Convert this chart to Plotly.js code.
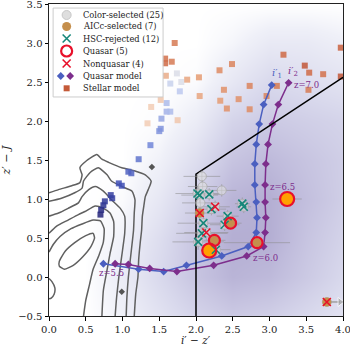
<!DOCTYPE html>
<html>
<head>
<meta charset="utf-8">
<script src="https://cdn.plot.ly/plotly-3.0.1.min.js"></script>
<style>html,body{margin:0;padding:0;background:#fff;}#chart{width:350px;height:346px;}</style>
</head>
<body>
<div id="chart"></div>
<script>
// ---------------- DATA ----------------
// hexbin density background (coarse grid of density levels)
const hexX = [0.5, 1.0, 1.5, 2.0, 2.5, 3.0, 3.5, 4.0];
const hexY = [-0.5, 0.0, 0.5, 1.0, 1.5, 2.0, 2.5, 3.0, 3.5];
const hexZ = [
  [0, 1.0, 2.5, 4.0, 5.0, 4.5, 3.5, 2.5],
  [0, 1.5, 3.5, 5.5, 7.0, 6.5, 5.0, 3.5],
  [0, 1.0, 3.0, 5.5, 7.5, 7.5, 5.5, 4.0],
  [0, 0.3, 2.0, 4.5, 7.0, 7.5, 6.0, 4.5],
  [0, 0.0, 1.0, 3.0, 5.5, 6.5, 5.5, 4.5],
  [0, 0.0, 0.2, 1.5, 4.0, 5.0, 4.5, 4.0],
  [0, 0.0, 0.0, 0.3, 2.0, 3.5, 3.0, 2.5],
  [0, 0.0, 0.0, 0.0, 0.7, 1.8, 1.8, 1.2],
  [0, 0, 0, 0, 0, 0, 0, 0]
];

// density contours (gray lines)
const contourAx = [0.00,0.13,0.31,0.42,0.45,0.42,0.51,0.65,0.72,0.81,0.99,1.17,1.31,1.39,1.35,1.31,1.29,1.27,1.26,1.24,1.22,1.21,1.18,1.16];
const contourAy = [1.08,1.12,1.17,1.21,1.31,1.40,1.49,1.57,1.51,1.47,1.40,1.36,1.31,1.23,1.12,1.03,0.91,0.78,0.60,0.43,0.22,0.00,-0.22,-0.50];
const contourBx = [0.00,0.17,0.35,0.45,0.47,0.56,0.67,0.79,0.85,0.99,1.13,1.17,1.16,1.15,1.12,1.08,1.06,1.05];
const contourBy = [0.97,1.01,1.08,1.14,1.23,1.34,1.40,1.31,1.23,1.16,1.10,0.99,0.82,0.60,0.34,0.00,-0.26,-0.50];
const contourCx = [0.00,0.13,0.26,0.40,0.45,0.54,0.63,0.74,0.85,0.97,1.03,1.03,1.00,0.95,0.92,0.90];
const contourCy = [0.78,0.82,0.88,0.95,1.03,1.12,1.16,1.10,0.99,0.88,0.78,0.56,0.34,0.00,-0.26,-0.50];
const contourDx = [0.00,0.10,0.26,0.40,0.49,0.63,0.74,0.83,0.88,0.88,0.83,0.79,0.74,0.72];
const contourDy = [0.56,0.65,0.73,0.80,0.84,0.91,0.88,0.82,0.71,0.52,0.30,0.09,-0.17,-0.50];
const contourEx = [0.00,0.06,0.15,0.30,0.45,0.60,0.70,0.75,0.74,0.68,0.60,0.55,0.50,0.47];
const contourEy = [0.32,0.42,0.52,0.62,0.68,0.73,0.72,0.62,0.45,0.28,0.10,-0.10,-0.30,-0.50];
const contourFx = [0.00,0.04,0.08,0.07,0.03,0.00];
const contourFy = [-0.02,-0.06,-0.14,-0.22,-0.27,-0.28];
const contourGx = [0.14,0.22,0.35,0.50,0.60,0.62,0.57,0.46,0.33,0.21,0.14,0.14];
const contourGy = [0.20,0.33,0.44,0.53,0.56,0.50,0.39,0.26,0.15,0.10,0.14,0.20];

// stellar model (colour value: 0 = coolest blue ... 1 = dark red)
const stellarX = [0.70,0.71,0.74,0.76,0.84,0.86,0.95,0.99,1.08,1.12,1.22,1.38,1.50,1.52,1.53,1.60,1.65,1.60,1.78,1.65,1.74,1.80,
                  1.39,1.34,1.52,1.75,1.59,1.88,2.05,2.04,2.33,2.42,2.38,2.58,2.73,2.32,2.49,2.73,2.96,3.10,1.58,1.58,1.67,1.71,3.19,3.48,3.54,3.73,3.53,3.97,3.97];
const stellarY = [0.80,0.86,0.92,0.97,1.05,1.01,1.20,1.17,1.35,1.33,1.51,1.69,1.87,1.90,2.03,2.12,2.12,2.23,2.38,2.48,2.61,2.50,
                  2.18,1.97,2.27,2.01,2.58,2.53,2.32,2.56,2.26,2.16,2.40,2.28,2.15,2.65,2.73,2.45,2.32,2.45,2.80,2.74,2.76,3.00,2.85,2.71,2.62,2.60,2.40,2.94,2.57];
const stellarT = [0.00,0.02,0.05,0.07,0.10,0.10,0.15,0.15,0.20,0.20,0.25,0.30,0.33,0.33,0.37,0.40,0.42,0.42,0.45,0.47,0.50,0.50,
                  0.60,0.60,0.62,0.62,0.70,0.72,0.72,0.75,0.75,0.78,0.78,0.78,0.80,0.80,0.82,0.82,0.82,0.85,0.88,0.90,0.85,0.85,0.90,0.95,0.90,0.88,0.85,0.92,0.95];

// other small model points (dark gray diamonds)
const otherX = [1.40, 0.99];
const otherY = [1.41, -0.19];

// quasar model tracks
const qsoBlueX = [0.74,1.22,1.56,1.87,2.35,2.71,2.82,2.83,2.82,2.80,2.80,2.82,2.86,2.92,3.03];
const qsoBlueY = [0.17,0.10,0.07,0.15,0.27,0.39,0.57,0.76,0.96,1.18,1.45,1.70,1.96,2.21,2.46];
const qsoPurpX = [0.90,1.08,1.37,1.74,2.24,2.69,2.92,2.94,2.95,2.94,2.94,2.95,2.98,3.04,3.12,3.26];
const qsoPurpY = [0.17,0.16,0.11,0.07,0.15,0.27,0.39,0.57,0.76,0.96,1.18,1.45,1.70,1.96,2.21,2.49];
const zLabels = ['z=5.5', 'z=6.0', 'z=6.5', 'z=7.0'];
const zLabelIdx = [0, 5, 10, 15];

// selection boundary
const cutX = [2.0, 2.0, 4.0];
const cutY = [-0.5, 1.32, 2.56];

// colour-selected candidates (25) with errors
const candX = [2.08,2.09,2.35,2.02,2.05,2.18,2.21,2.26,2.63,2.65,2.43,2.39,2.10,2.08,2.14,2.03,2.27,2.05,2.47,2.25,2.83,2.18,3.24,3.78,2.06];
const candY = [1.29,1.16,1.11,1.07,1.05,1.06,0.87,0.90,0.94,0.90,0.78,0.67,0.69,0.56,0.57,0.45,0.35,0.82,0.69,0.47,0.44,0.34,1.00,-0.32,0.95];
const candXerr = [0.25,0.20,0.20,0.30,0.25,0.15,0.20,0.20,0.10,0.10,0.15,0.20,0.35,0.35,0.30,0.35,0.20,0.20,0.15,0.15,0.45,0.10,0.20,0.00,0.25];
const candYerr = [0.08,0.08,0.08,0.10,0.10,0.08,0.08,0.08,0.08,0.08,0.08,0.08,0.10,0.10,0.10,0.10,0.10,0.08,0.06,0.07,0.06,0.12,0.05,0.05,0.10];
const limitX = [3.78];
const limitY = [-0.32];
const limitLen = [0.18];

// AICc-selected (7)
const aiccX = [2.47,2.25,2.83,2.05,3.78];
const aiccY = [0.69,0.47,0.44,0.82,-0.32];
const aiccBrightX = [3.24,2.18];
const aiccBrightY = [1.00,0.34];

// HSC-rejected (12)
const hscX = [2.02,2.05,2.18,2.21,2.63,2.65,2.43,2.39,2.10,2.08,2.03,2.27];
const hscY = [1.07,1.05,1.06,0.87,0.94,0.90,0.78,0.67,0.69,0.56,0.45,0.35];

// Quasar (5) and Nonquasar (4)
const quasarX = [2.47,2.25,2.83];
const quasarY = [0.69,0.47,0.44];
const quasarBrightX = [3.24,2.18];
const quasarBrightY = [1.00,0.34];
const nonqX = [2.26,2.14,2.05,3.78];
const nonqY = [0.90,0.57,0.82,-0.32];

// legend entries
const legendLabels = ['Color-selected (25)','AICc-selected (7)','HSC-rejected (12)','Quasar (5)','Nonquasar (4)','Quasar model','Stellar model'];
const xTitle = '<i>i</i>′ − <i>z</i>′';
const yTitle = '<i>z</i>′ − <i>J</i>';

// ---------------- STYLE ----------------
const FONT = 'DejaVu Serif, Liberation Serif, serif';
const C_BLUE = '#4b5fc0', C_PURP = '#7d2e8c', C_RED = '#e8102a', C_TEAL = '#17877a';
const C_AICC = '#c58f4c', C_ORANGE = '#ffa000';
const C_STELLAR = '#c45a38';
const stellarScale = [[0,'#23237a'],[0.15,'#3f4fb5'],[0.3,'#7186d8'],[0.45,'#bcc8ee'],[0.52,'#e6e6e6'],[0.6,'#f2cdb5'],[0.75,'#e59b72'],[0.9,'#cf6a45'],[1,'#b5432a']];

const traces = [];
traces.push({type:'heatmap', x:hexX, y:hexY, z:hexZ, zsmooth:'best', zmin:0, zmax:9, showscale:false, hoverinfo:'skip',
  colorscale:[[0,'#ffffff'],[0.12,'#eff0f8'],[0.4,'#d8d8ec'],[0.7,'#c0bcdc'],[1,'#a69ec8']]});

[[contourAx,contourAy],[contourBx,contourBy],[contourCx,contourCy],[contourDx,contourDy],[contourEx,contourEy],[contourFx,contourFy],[contourGx,contourGy]]
  .forEach(([cx,cy]) => traces.push({type:'scatter', mode:'lines', x:cx, y:cy, line:{color:'#606060', width:1.5, shape:'spline', smoothing:0.5}, showlegend:false, hoverinfo:'skip'}));

traces.push({type:'scatter', mode:'markers', x:stellarX, y:stellarY, showlegend:false,
  marker:{symbol:'square', size:6, color:stellarT, colorscale:stellarScale, cmin:0, cmax:1, opacity:0.85, line:{width:0}}});
traces.push({type:'scatter', mode:'markers', x:otherX, y:otherY, showlegend:false,
  marker:{symbol:'diamond', size:5, color:'#555555'}});

traces.push({type:'scatter', mode:'lines+markers', x:qsoBlueX, y:qsoBlueY, showlegend:false,
  line:{color:C_BLUE, width:1.5}, marker:{symbol:'diamond', size:6, color:C_BLUE}});
traces.push({type:'scatter', mode:'lines+markers', x:qsoPurpX, y:qsoPurpY, showlegend:false,
  line:{color:C_PURP, width:1.5}, marker:{symbol:'diamond', size:6, color:C_PURP}});

traces.push({type:'scatter', mode:'lines', x:cutX, y:cutY, showlegend:false, line:{color:'#000', width:1.5}});

traces.push({type:'scatter', mode:'markers', x:candX, y:candY, showlegend:false,
  error_x:{type:'data', array:candXerr, visible:true, color:'rgba(140,140,140,0.55)', thickness:1, width:0},
  error_y:{type:'data', array:candYerr, visible:true, color:'rgba(140,140,140,0.55)', thickness:1, width:0},
  marker:{symbol:'circle', size:9, color:'rgba(222,222,222,0.6)', line:{color:'rgba(170,170,170,0.8)', width:1}}});

// lower-limit arrows (from the point towards +x)
limitX.forEach((lx,i) => traces.push({type:'scatter', mode:'lines+markers', x:[lx, lx + limitLen[i]], y:[limitY[i], limitY[i]], showlegend:false, hoverinfo:'skip',
  line:{color:'#a0a0a0', width:1.5}, marker:{symbol:'triangle-right', size:[0, 8], color:'#a0a0a0'}}));

traces.push({type:'scatter', mode:'markers', x:aiccX, y:aiccY, showlegend:false,
  marker:{symbol:'circle', size:9, color:C_AICC}});
traces.push({type:'scatter', mode:'markers', x:aiccBrightX, y:aiccBrightY, showlegend:false,
  marker:{symbol:'circle', size:13, color:C_ORANGE}});
traces.push({type:'scatter', mode:'markers', x:hscX, y:hscY, showlegend:false,
  marker:{symbol:'x-thin-open', size:8, color:C_TEAL, line:{color:C_TEAL, width:1.6}}});
traces.push({type:'scatter', mode:'markers', x:quasarX, y:quasarY, showlegend:false,
  marker:{symbol:'circle-open', size:11, color:C_RED, line:{color:C_RED, width:2.2}}});
traces.push({type:'scatter', mode:'markers', x:quasarBrightX, y:quasarBrightY, showlegend:false,
  marker:{symbol:'circle-open', size:14, color:C_RED, line:{color:C_RED, width:2.2}}});
traces.push({type:'scatter', mode:'markers', x:nonqX, y:nonqY, showlegend:false,
  marker:{symbol:'x-thin-open', size:8, color:C_RED, line:{color:C_RED, width:1.6}}});

// ---------------- manual legend (overlay paper-like axes) ----------------
const LEG = {x0:0.014, x1:0.388, y0:0.702, y1:0.987};
const legRows = [15, 26.5, 38.5, 51, 63.5, 76, 88.3].map(py => (316 - py) / 312);
const symX = 0.060;
traces.push({type:'scatter', mode:'lines', xaxis:'x2', yaxis:'y2', x:[LEG.x0,LEG.x1,LEG.x1,LEG.x0,LEG.x0], y:[LEG.y0,LEG.y0,LEG.y1,LEG.y1,LEG.y0],
  fill:'toself', fillcolor:'rgba(255,255,255,0.85)', line:{color:'#cccccc', width:1}, showlegend:false, hoverinfo:'skip'});
const legSym = [
  {x:[symX], y:[legRows[0]], marker:{symbol:'circle', size:9, color:'#dedede', line:{color:'#c8c8c8', width:1}}},
  {x:[symX], y:[legRows[1]], marker:{symbol:'circle', size:9, color:C_AICC}},
  {x:[symX], y:[legRows[2]], marker:{symbol:'x-thin-open', size:8, color:C_TEAL, line:{color:C_TEAL, width:1.6}}},
  {x:[symX], y:[legRows[3]], marker:{symbol:'circle-open', size:11, color:C_RED, line:{color:C_RED, width:2.2}}},
  {x:[symX], y:[legRows[4]], marker:{symbol:'x-thin-open', size:8, color:C_RED, line:{color:C_RED, width:1.6}}},
  {x:[symX-0.02], y:[legRows[5]], marker:{symbol:'diamond', size:6, color:C_BLUE}},
  {x:[symX+0.012], y:[legRows[5]], marker:{symbol:'diamond', size:6, color:C_PURP}},
  {x:[symX], y:[legRows[6]], marker:{symbol:'square', size:6, color:C_STELLAR}}
];
legSym.forEach(s => traces.push(Object.assign({type:'scatter', mode:'markers', xaxis:'x2', yaxis:'y2', showlegend:false, hoverinfo:'skip'}, s)));

const annotations = [];
legendLabels.forEach((t,i) => annotations.push({xref:'paper', yref:'paper', x:0.108, y:legRows[i], xanchor:'left', yanchor:'middle',
  text:t, showarrow:false, font:{family:FONT, size:8.3, color:'#222'}}));

// x-axis title placed below the tick labels
annotations.push({xref:'paper', yref:'paper', x:0.5, y:-(339.5 - 316) / 312, xanchor:'center', yanchor:'middle',
  text:xTitle, showarrow:false, borderpad:0, font:{family:FONT, size:10.5, color:'#222'}});

// z labels on the purple track
zLabelIdx.forEach((idx,k) => {
  const opts = {x:qsoPurpX[idx], y:qsoPurpY[idx], text:zLabels[k], showarrow:false, font:{family:FONT, size:8.5, color:C_PURP}};
  if (k === 0) Object.assign(opts, {xanchor:'center', yanchor:'top', xshift:-4, yshift:-2});
  else if (k === 1) Object.assign(opts, {xanchor:'left', yanchor:'middle', xshift:4, yshift:-2});
  else Object.assign(opts, {xanchor:'left', yanchor:'middle', xshift:3, yshift:-2});
  annotations.push(opts);
});
// track labels
annotations.push({x:qsoBlueX[qsoBlueX.length-1], y:qsoBlueY[qsoBlueY.length-1], text:'<i>i</i>′<sub>1</sub>', showarrow:false,
  xanchor:'center', yanchor:'bottom', xshift:5, yshift:3, font:{family:FONT, size:10, color:C_BLUE}});
annotations.push({x:qsoPurpX[qsoPurpX.length-1], y:qsoPurpY[qsoPurpY.length-1], text:'<i>i</i>′<sub>2</sub>', showarrow:false,
  xanchor:'center', yanchor:'bottom', xshift:4, yshift:3, font:{family:FONT, size:10, color:C_PURP}});

const axisCommon = {dtick:0.5, tickformat:'.1f', ticks:'outside', ticklen:3.5, tickcolor:'#000', showgrid:false, zeroline:false,
  showline:true, mirror:true, linecolor:'#222', linewidth:1, ticklabeloverflow:'allow',
  tickfont:{family:FONT, size:10, color:'#222'}};

const layout = {
  width:350, height:346,
  margin:{l:49, r:7, t:4, b:30},
  paper_bgcolor:'#fff', plot_bgcolor:'#fff',
  showlegend:false,
  font:{family:FONT, color:'#222'},
  xaxis:Object.assign({range:[0,4]}, axisCommon),
  yaxis:Object.assign({range:[-0.5,3.5], title:{text:yTitle, font:{family:FONT, size:11, color:'#222'}, standoff:6}}, axisCommon),
  xaxis2:{overlaying:'x', range:[0,1], visible:false, fixedrange:true},
  yaxis2:{overlaying:'y', range:[0,1], visible:false, fixedrange:true},
  annotations:annotations
};

Plotly.newPlot('chart', traces, layout, {displayModeBar:false, staticPlot:true});
</script>
</body>
</html>
